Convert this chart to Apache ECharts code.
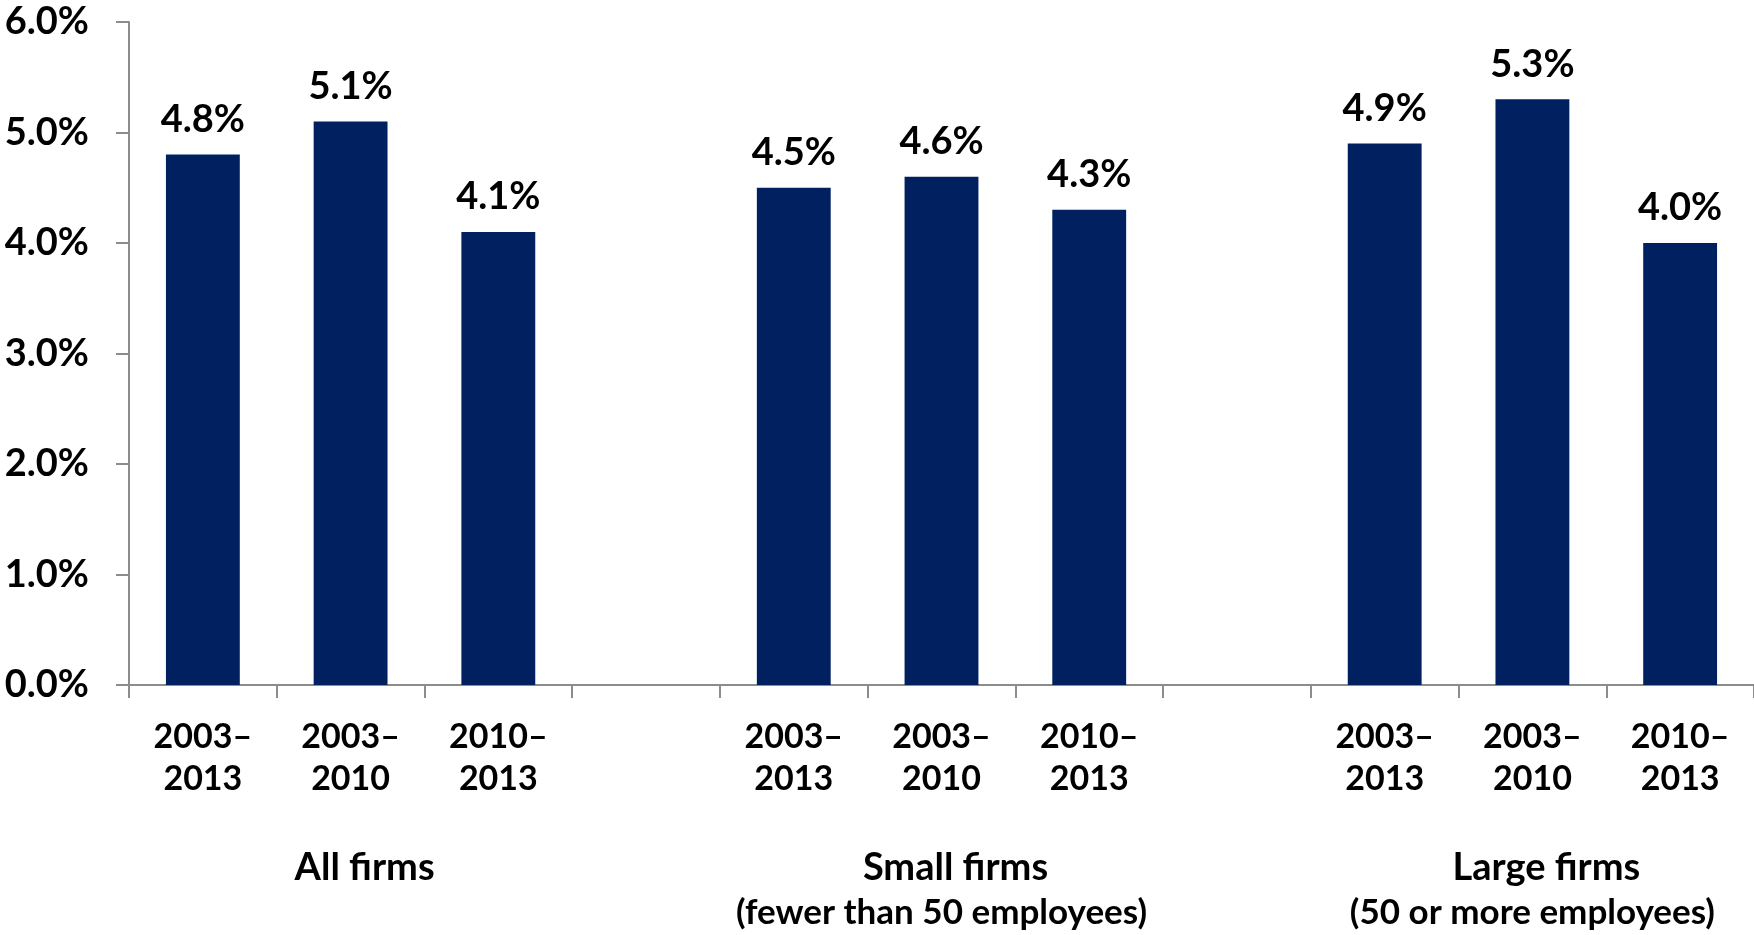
<!DOCTYPE html>
<html>
<head>
<meta charset="utf-8">
<script src="https://cdn.jsdelivr.net/npm/echarts@6/dist/echarts.min.js"></script>
<style>
    html, body { margin: 0; padding: 0; background: #fff; }
    #main { width: 1754px; height: 935px; }
</style>
</head>
<body>
<div id="main"></div>
<script>
    // 11 slots: 3 bars, gap, 3 bars, gap, 3 bars
    var periods = ['2003–\n2013', '2003–\n2010', '2010–\n2013', '',
                   '2003–\n2013', '2003–\n2010', '2010–\n2013', '',
                   '2003–\n2013', '2003–\n2010', '2010–\n2013'];
    var growth = [4.8, 5.1, 4.1, null, 4.5, 4.6, 4.3, null, 4.9, 5.3, 4.0];
    var groupNames = ['', 'All firms', '', '', '', 'Small firms', '', '', '', 'Large firms', ''];
    var groupNotes = ['', '', '', '', '', '(fewer than 50 employees)', '', '', '', '(50 or more employees)', ''];
    var yTicks = [0, 1, 2, 3, 4, 5, 6];

    var font = 'Lato, "Open Sans", sans-serif';
    var chart = echarts.init(document.getElementById('main'));
    var option = {
        animation: false,
        grid: {
            left: 129,
            right: 0,
            top: 22,
            bottom: 250
        },
        xAxis: [
            {
                type: 'category',
                data: periods,
                axisLine: { lineStyle: { color: '#8c8c8c', width: 2 } },
                axisTick: { show: true, length: 13, lineStyle: { color: '#8c8c8c', width: 2 } },
                axisLabel: {
                    interval: 0,
                    margin: 31,
                    color: '#000',
                    fontFamily: font,
                    fontWeight: 'bold',
                    fontSize: 34,
                    lineHeight: 42
                }
            },
            {
                type: 'category',
                position: 'bottom',
                data: groupNames,
                offset: 0,
                axisLine: { show: false },
                axisTick: { show: false },
                axisLabel: {
                    interval: 0,
                    margin: 160,
                    formatter: function (v, i) {
                        if (!v) return '';
                        return '{a|' + v + '}\n{b|' + groupNotes[i] + '}';
                    },
                    rich: {
                        a: {
                            color: '#000',
                            fontFamily: font,
                            fontWeight: 'bold',
                            fontSize: 38,
                            lineHeight: 45,
                            padding: [0, 0, 0, 28]
                        },
                        b: {
                            color: '#000',
                            fontFamily: font,
                            fontWeight: 'bold',
                            fontSize: 35,
                            lineHeight: 45
                        }
                    }
                }
            }
        ],
        yAxis: {
            type: 'value',
            min: yTicks[0],
            max: yTicks[yTicks.length - 1],
            interval: 1,
            splitLine: { show: false },
            axisLine: { show: true, lineStyle: { color: '#8c8c8c', width: 2 } },
            axisTick: { show: true, length: 13, lineStyle: { color: '#8c8c8c', width: 2 } },
            axisLabel: {
                margin: 40,
                color: '#000',
                fontFamily: font,
                fontWeight: 'bold',
                fontSize: 38,
                formatter: function (v) { return v.toFixed(1) + '%'; }
            }
        },
        series: [
            {
                type: 'bar',
                data: growth,
                barWidth: '50%',
                itemStyle: { color: '#002060' },
                label: {
                    show: true,
                    position: 'top',
                    distance: 16,
                    color: '#000',
                    fontFamily: font,
                    fontWeight: 'bold',
                    fontSize: 38,
                    formatter: function (p) { return p.value.toFixed(1) + '%'; }
                }
            }
        ]
    };
    chart.setOption(option);
</script>
</body>
</html>
